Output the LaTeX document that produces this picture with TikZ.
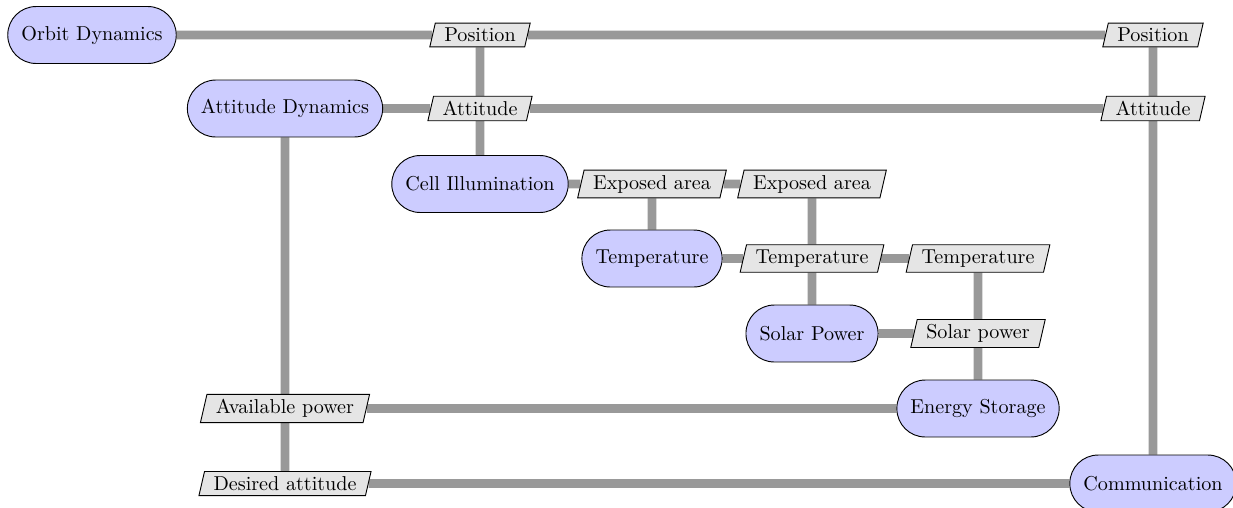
\documentclass[tikz,border=0pt]{standalone}
\usetikzlibrary{shapes.geometric,backgrounds}
\tikzset{
  modbox/.style={draw=black, line width=0.5pt, fill=blue!20, rectangle, rounded corners=15.4pt,
    minimum height=31pt, inner xsep=7.4pt, font=\fontsize{10.95}{13.6}\selectfont},
  sigbox/.style={draw=black, line width=0.5pt, fill=gray!20, trapezium, trapezium left angle=77,
    trapezium right angle=103, inner xsep=4.9pt, inner ysep=2.7pt, font=\fontsize{10.95}{13.6}\selectfont},
  link/.style={draw=gray!80, line width=4.8pt},
}
\begin{document}
\begin{tikzpicture}[x=0.5443pt,y=-0.5443pt]
\useasboundingbox (0,0) rectangle (1233,507);
% rows
\def\ra{35}\def\rb{108.5}\def\rc{184}\def\rd{258.5}\def\re{333.5}\def\rf{408.5}\def\rg{483.5}
% modules
\node[modbox] (orbit) at (92,\ra) {Orbit Dynamics};
\node[modbox] (attdyn) at (285,\rb) {Attitude Dynamics};
\node[modbox] (cell) at (480,\rc) {Cell Illumination};
\node[modbox] (temp) at (652,\rd) {Temperature};
\node[modbox] (solar) at (812,\re) {Solar Power};
\node[modbox] (energy) at (978,\rf) {Energy Storage};
\node[modbox] (comm) at (1153,\rg) {Communication};
% signals
\node[sigbox] (pos1) at (480,\ra) {Position};
\node[sigbox] (pos2) at (1153,\ra) {Position};
\node[sigbox] (att1) at (480,\rb) {Attitude};
\node[sigbox] (att2) at (1153,\rb) {Attitude};
\node[sigbox] (exp1) at (652,\rc) {Exposed area};
\node[sigbox] (exp2) at (812,\rc) {Exposed area};
\node[sigbox] (tmp2) at (812,\rd) {Temperature};
\node[sigbox] (tmp3) at (978,\rd) {Temperature};
\node[sigbox] (spow) at (978,\re) {Solar power};
\node[sigbox] (avail) at (285,\rf) {Available power};
\node[sigbox] (desired) at (285,\rg) {Desired attitude};
% connectors
\begin{scope}[on background layer]
\draw[link] (orbit) -- (pos1);
\draw[link] (pos1) -- (pos2);
\draw[link] (pos1) -- (att1);
\draw[link] (attdyn) -- (att1);
\draw[link] (att1) -- (att2);
\draw[link] (att1) -- (cell);
\draw[link] (pos2) -- (att2);
\draw[link] (att2) -- (comm);
\draw[link] (cell) -- (exp1);
\draw[link] (exp1) -- (exp2);
\draw[link] (exp1) -- (temp);
\draw[link] (exp2) -- (tmp2);
\draw[link] (temp) -- (tmp2);
\draw[link] (tmp2) -- (tmp3);
\draw[link] (tmp2) -- (solar);
\draw[link] (tmp3) -- (spow);
\draw[link] (solar) -- (spow);
\draw[link] (spow) -- (energy);
\draw[link] (avail) -- (energy);
\draw[link] (attdyn) -- (avail);
\draw[link] (avail) -- (desired);
\draw[link] (desired) -- (comm);
\end{scope}
\end{tikzpicture}
\end{document}
